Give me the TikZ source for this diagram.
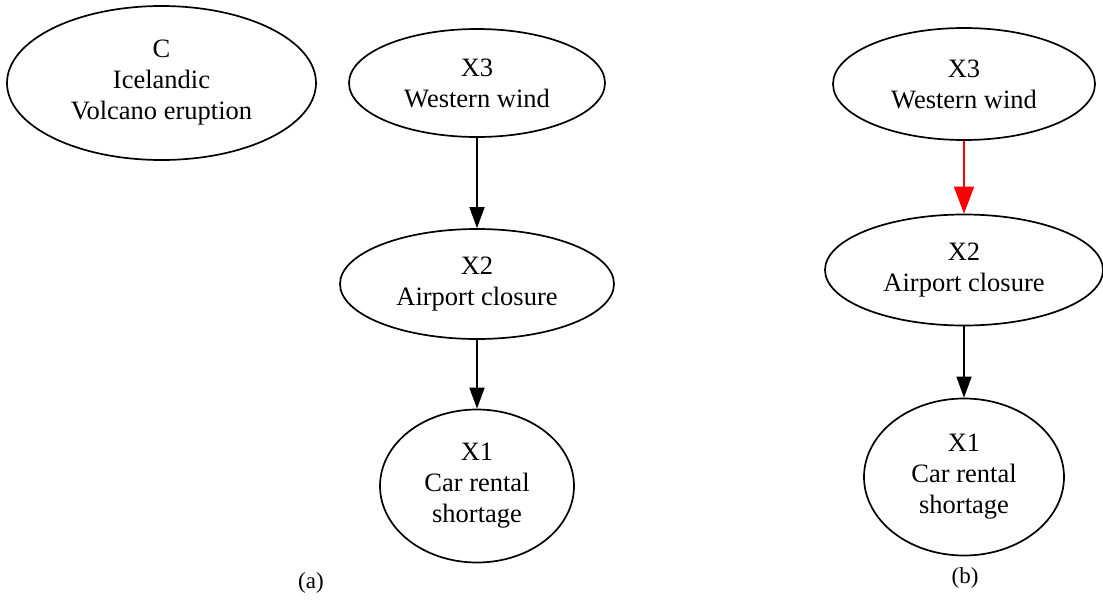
\documentclass[tikz,border=0pt]{standalone}
\usepackage{fontspec}
\setmainfont{Liberation Serif}
\usetikzlibrary{shapes.geometric,arrows.meta}
\begin{document}
\begin{tikzpicture}[x=1pt,y=-1pt,
  ell/.style={draw=black,line width=1.7pt,ellipse,inner sep=0pt,align=center,
    font=\fontsize{26.5}{31}\selectfont},
  edge/.style={line width=1.7pt,-{Triangle[length=21pt,width=15pt]}},
  redge/.style={line width=1.7pt,draw=red,-{Triangle[length=27pt,width=20pt]},red},
  lbl/.style={font=\fontsize{23}{27}\selectfont}]
\useasboundingbox (0,0) rectangle (1103,603);
% (a)
\node[ell,minimum width=309pt,minimum height=154pt] (c) at (161.5,83) {C\\Icelandic\\Volcano eruption};
\node[ell,minimum width=256pt,minimum height=108pt] (ax3) at (477,83) {X3\\Western wind};
\node[ell,minimum width=274pt,minimum height=110pt] (ax2) at (477,284) {X2\\Airport closure};
\node[ell,minimum width=194pt,minimum height=153pt] (ax1) at (477,486) {X1\\Car rental\\shortage};
\draw[edge] (ax3) -- (ax2);
\draw[edge] (ax2) -- (ax1);
\node[lbl] (la) at (311,583) {(a)};
% (b)
\node[ell,minimum width=262pt,minimum height=112pt] (bx3) at (964,84) {X3\\Western wind};
\node[ell,minimum width=278pt,minimum height=111pt] (bx2) at (964,270) {X2\\Airport closure};
\node[ell,minimum width=200pt,minimum height=157pt] (bx1) at (964,477) {X1\\Car rental\\shortage};
\draw[redge] (bx3) -- (bx2);
\draw[edge] (bx2) -- (bx1);
\node[lbl] (lb) at (965,578) {(b)};
\end{tikzpicture}
\end{document}
